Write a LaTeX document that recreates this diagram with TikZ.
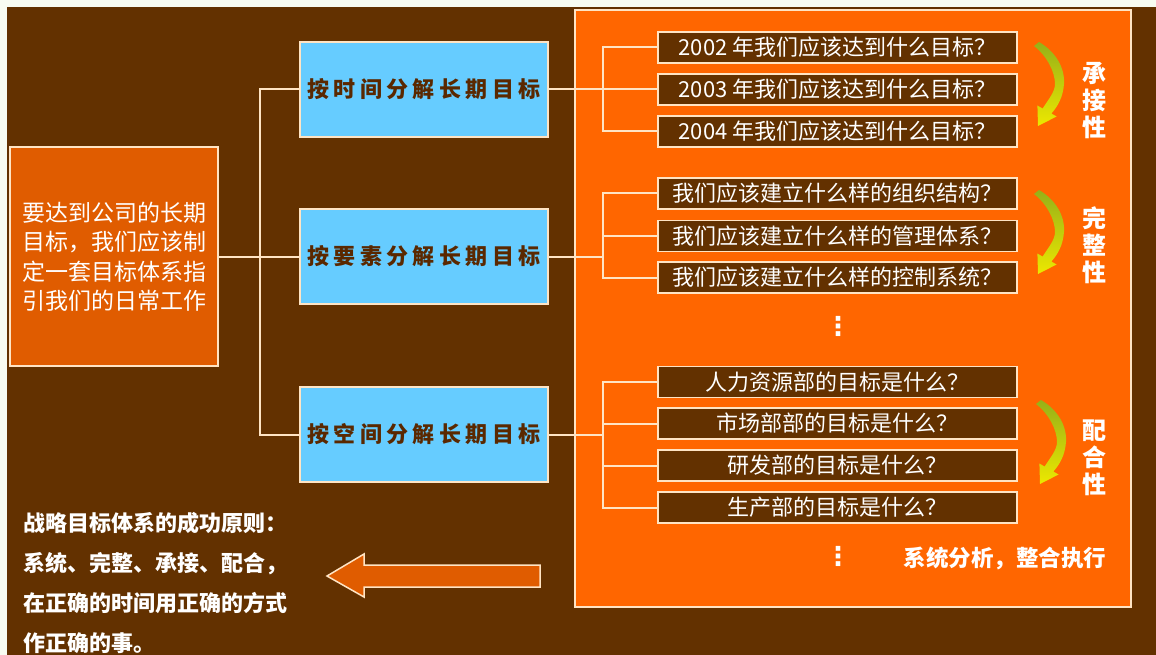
\documentclass[tikz,border=0pt]{standalone}
\usepackage{fontspec}
\newfontfamily\cjk{Noto Sans CJK SC}
\newfontfamily\cjkwide[LetterSpace=20]{Noto Sans CJK SC}
\newfontfamily\dvsans{DejaVu Sans}
\definecolor{bgbrown}{RGB}{99,49,0}
\definecolor{marginc}{RGB}{248,252,242}
\definecolor{boxorange}{RGB}{224,92,0}
\definecolor{panelorange}{RGB}{255,102,0}
\definecolor{skyblue}{RGB}{102,204,255}
\definecolor{cream}{RGB}{255,228,196}
\definecolor{bluetext}{RGB}{90,40,0}
\definecolor{arcgreen}{RGB}{150,176,24}
\definecolor{arcyellow}{RGB}{236,232,0}
\tikzset{
  conn/.style={draw=cream, line width=2},
  leftbox/.style={draw=cream, line width=1.5, fill=boxorange, minimum width=208, minimum height=219, inner sep=0,
    text=white, align=center, font=\cjk\fontsize{23}{29.5}\selectfont},
  bluebox/.style={draw=cream, line width=1.5, fill=skyblue, minimum width=248, minimum height=95, inner sep=0,
    text=bluetext, font=\cjkwide\bfseries\fontsize{22}{22}\selectfont},
  panelbox/.style={draw=cream, line width=2, fill=panelorange, minimum width=556, minimum height=597, inner sep=0},
  qbox/.style={draw=cream, line width=1.3, fill=bgbrown, minimum width=359, minimum height=31, inner sep=0,
    text=white, font=\cjk\fontsize{22}{22}\selectfont},
  vlabel/.style={text=white, align=center, inner sep=0, font=\cjk\bfseries\fontsize{24}{27}\selectfont},
  dots/.style={text=white, inner sep=0, font=\dvsans\bfseries\fontsize{26}{26}\selectfont},
  crescent/.pic={
    \shade[top color=arcgreen, bottom color=arcyellow]
      (5,0) .. controls (22,10) and (31,26) .. (30,42)
      .. controls (29,55) and (24,64) .. (17.4,71.5)
      -- (22.6,74.5) -- (4,84) -- (3.4,63.5) -- (8.6,66.5)
      .. controls (14,58) and (21,50) .. (21,42)
      .. controls (21,30) and (13,14) .. (0,4) -- cycle;
  }
}
\begin{document}
\begin{tikzpicture}[x=1pt,y=-1pt]
\fill[marginc] (0,0) rectangle (1156,655);
\useasboundingbox (0,0) rectangle (1156,655);
\fill[bgbrown] (7,7) rectangle (1156,655);

% right panel
\node[panelbox] (P) at (853,308.5) {};

% left box
\node[leftbox] (L) at (114,256.5) {要达到公司的长期\\目标，我们应该制\\定一套目标体系指\\引我们的日常工作};

% blue boxes
\node[bluebox] (B1) at (424,89.5) {按时间分解长期目标};
\node[bluebox] (B2) at (424,256.5) {按要素分解长期目标};
\node[bluebox] (B3) at (424,434.5) {按空间分解长期目标};

% trunk connectors
\coordinate (T) at (260,256.5);
\draw[conn] (L.east) -- (T);
\draw[conn] (B1.west) -| (T) |- (B3.west);
\draw[conn] (T) -- (B2.west);

% question boxes
\node[qbox] (Q11) at (837.5,47.5) {2002 年我们应该达到什么目标？};
\node[qbox] (Q12) at (837.5,89.5) {2003 年我们应该达到什么目标？};
\node[qbox] (Q13) at (837.5,131.5) {2004 年我们应该达到什么目标？};
\node[qbox] (Q21) at (837.5,193.5) {我们应该建立什么样的组织结构？};
\node[qbox] (Q22) at (837.5,236) {我们应该建立什么样的管理体系？};
\node[qbox] (Q23) at (837.5,277.5) {我们应该建立什么样的控制系统？};
\node[qbox] (Q31) at (837.5,382) {人力资源部的目标是什么？};
\node[qbox] (Q32) at (837.5,423.5) {市场部部的目标是什么？};
\node[qbox] (Q33) at (837.5,465.5) {研发部的目标是什么？};
\node[qbox] (Q34) at (837.5,507.5) {生产部的目标是什么？};

% brackets
\coordinate (G1) at (603,89.5);
\coordinate (G2) at (603,256.5);
\coordinate (G3) at (603,434.5);
\draw[conn] (B1.east) -- (G1);
\draw[conn] (B2.east) -- (G2);
\draw[conn] (B3.east) -- (G3);
\draw[conn] (Q11.west) -| (G1) |- (Q13.west);
\draw[conn] (G1) -- (Q12.west);
\draw[conn] (Q21.west) -| (G2) |- (Q23.west);
\draw[conn] (Q22.west) -- (Q22.west -| G2);
\draw[conn] (Q31.west) -| (G3) |- (Q34.west);
\draw[conn] (Q32.west) -- (Q32.west -| G3);
\draw[conn] (Q33.west) -- (Q33.west -| G3);

% dots
\node[dots] (D1) at (838,326) {⋮};
\node[dots] (D2) at (838,556) {⋮};

% curved arrows and labels
\pic at (1034,42) {crescent};
\pic at (1034,190) {crescent};
\pic at (1036,400) {crescent};
\node[vlabel] (V1) at (1094,100) {承\\接\\性};
\node[vlabel] (V2) at (1094,245) {完\\整\\性};
\node[vlabel] (V3) at (1094,458) {配\\合\\性};

\node[text=white, inner sep=0, font=\cjk\bfseries\fontsize{22.5}{22.5}\selectfont] (S) at (1005,558) {系统分析，整合执行};

% big arrow
\draw[draw=cream, line width=1.5, fill=boxorange] (540,565) -- (364,565) -- (364,554) -- (327,576) -- (364,597) -- (364,587) -- (540,587) -- cycle;

% principles text
\node[anchor=west, text=white, align=left, inner sep=0, font=\cjk\bfseries\fontsize{22}{40}\selectfont] (R) at (23,583)
  {战略目标体系的成功原则：\\系统、完整、承接、配合，\\在正确的时间用正确的方式\\作正确的事。};
\end{tikzpicture}
\end{document}
